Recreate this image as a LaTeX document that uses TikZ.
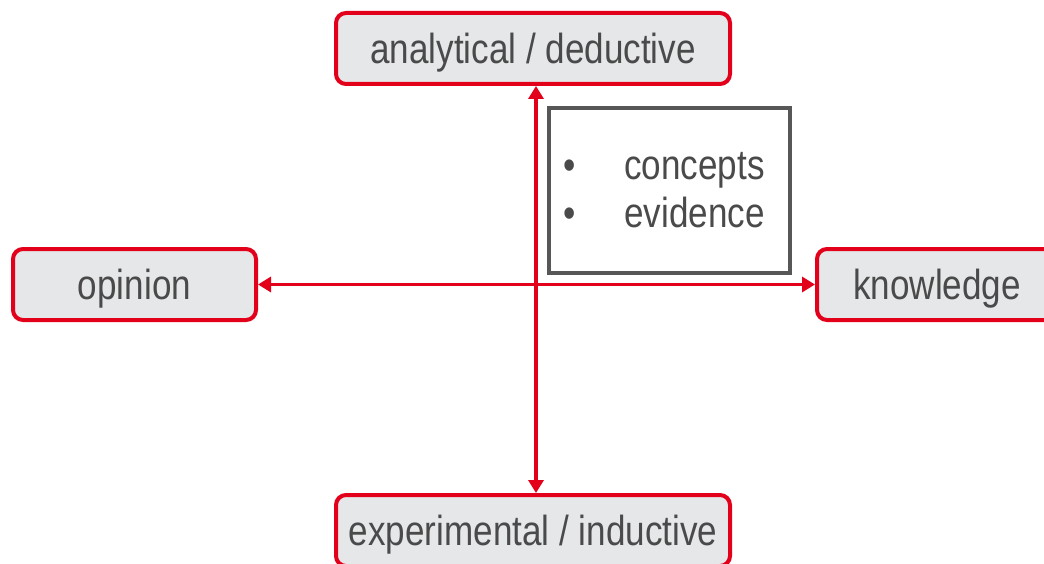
\documentclass[tikz,border=0pt]{standalone}
\usepackage{fontspec}
\setmainfont{Liberation Sans}[FakeStretch=0.835]
\usetikzlibrary{positioning,arrows.meta}

\definecolor{axisred}{HTML}{E2001A}
\definecolor{boxgray}{HTML}{E6E7E9}
\definecolor{inkgray}{HTML}{4A4A4A}
\definecolor{framegray}{HTML}{575757}

\begin{document}
\begin{tikzpicture}[x=1pt,y=-1pt]
        \tikzstyle{every node}=[font=\fontsize{42}{48}\selectfont, text=inkgray, inner sep=0pt]
        \tikzstyle{pole}=[draw=axisred, fill=boxgray, line width=4pt, rounded corners=10pt,
                          minimum height=71pt, text height=30pt, text depth=0pt]
        \tikzstyle{axis}=[draw=axisred, line width=3.6pt,
                          {Triangle[width=15pt,length=13pt]}-{Triangle[width=15pt,length=13pt]}]

        \useasboundingbox (0,0) rectangle (1044,564);
        \clip (0,0) rectangle (1044,564);

        % the four poles
        \node   (analytic)   [pole, minimum width=394pt] at (533,48.5)  {analytical / deductive};
        \node   (experiment) [pole, minimum width=394pt] at (533,530.5) {experimental / inductive};
        \node   (opinion)    [pole, minimum width=243pt] at (134.5,284.5) {opinion};
        \node   (knowledge)  [pole, minimum width=240pt] at (937,284.5) {knowledge};

        % the two axes
        \draw[axis] ([xshift=3pt]analytic.south) -- ([xshift=3pt]experiment.north);
        \draw[axis] (opinion.east) -- (knowledge.west);

        % note box with the bullet list
        \node   (notes) [draw=framegray, line width=4pt, minimum width=241pt, minimum height=165pt]
                at (669.5,190.5) {};
        \node   (dot1)     [anchor=base]      at (570,180) {\textbullet};
        \node   (concepts) [anchor=base west] at (624,180) {concepts};
        \node   (dot2)     [anchor=base]      at (570,228) {\textbullet};
        \node   (evidence) [anchor=base west] at (624,228) {evidence};

\end{tikzpicture}
\end{document}
